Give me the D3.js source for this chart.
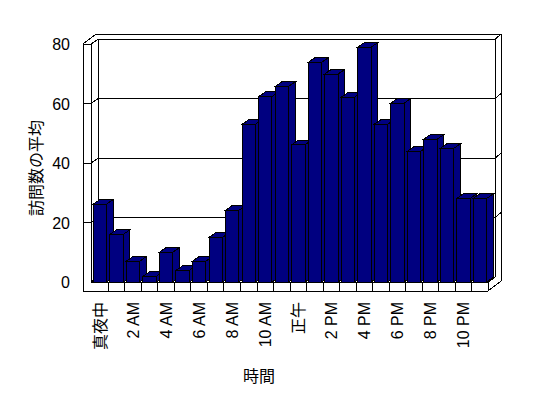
<!DOCTYPE html>
<html>
<head>
<meta charset="utf-8">
<script src="https://cdn.jsdelivr.net/npm/d3@7"></script>
<style>
  html, body { margin: 0; padding: 0; background: #fff; }
  svg { display: block; }
  text { font-family: "Liberation Sans", Arial, "Noto Sans CJK JP", sans-serif; fill: #000; }
</style>
</head>
<body>
<script>
// ---- data ----
const categories = ["真夜中","1 AM","2 AM","3 AM","4 AM","5 AM","6 AM","7 AM","8 AM","9 AM","10 AM","11 AM",
                    "正午","1 PM","2 PM","3 PM","4 PM","5 PM","6 PM","7 PM","8 PM","9 PM","10 PM","11 PM"];
const visits = [26.2, 16.0, 7.0, 1.9, 10.0, 3.9, 7.0, 15.0, 24.1, 53.0, 62.3, 65.7,
                46.1, 73.8, 69.9, 62.1, 78.9, 53.0, 60.1, 43.9, 48.0, 44.9, 28.1, 28.1];
const xTickLabels = ["真夜中","2 AM","4 AM","6 AM","8 AM","10 AM","正午","2 PM","4 PM","6 PM","8 PM","10 PM"];
const yTicks = [0, 20, 40, 60, 80];
const yTitle = "訪問数の平均";
const xTitle = "時間";

// ---- layout ----
const W = 548, H = 398;
const svg = d3.select("body").append("svg").attr("width", W).attr("height", H);

const frontL = 83, wallT = 8;           // side wall front face x..x+wallT
const floorR = 488, floorB = 291;
const d1 = {dx: 7.3, dy: -5};           // inner depth (to back wall face)
const d2 = {dx: 13, dy: -10};           // outer depth (incl. wall thickness)
const bd = {dx: 6.7, dy: -4.7};         // bar depth

const x = d3.scaleBand().domain(categories).range([91.8, 488.3]).paddingInner(0.19).paddingOuter(0.095);
const y = d3.scaleLinear().domain([0, 80]).range([282, 44]);
const y0 = y(0), yTop = y(80);
const step = x.step();
const cat0 = 91.8;

const g = svg.append("g").attr("shape-rendering", "crispEdges")
  .attr("stroke", "#000").attr("stroke-width", 1).attr("fill", "none");

function line(x1, y1, x2, y2) {
  g.append("line").attr("x1", x1).attr("y1", y1).attr("x2", x2).attr("y2", y2);
}

const inL = frontL + wallT; // 91
// side wall front face
line(frontL, yTop, frontL, floorB);
line(frontL, yTop, inL, yTop);
line(inL, yTop, inL, y0);
// top of walls
line(frontL, yTop, frontL + d2.dx, yTop + d2.dy);
line(inL, yTop, inL + d1.dx, yTop + d1.dy);
line(frontL + d2.dx, yTop + d2.dy, floorR + d2.dx, yTop + d2.dy);
line(inL + d1.dx, yTop + d1.dy, floorR + d1.dx, yTop + d1.dy);
line(floorR + d1.dx, yTop + d1.dy, floorR + d2.dx, yTop + d2.dy);
// back wall verticals
line(inL + d1.dx, yTop + d1.dy, inL + d1.dx, y0 + d1.dy);
line(floorR + d1.dx, yTop + d1.dy, floorR + d1.dx, y0 + d1.dy);
line(floorR + d2.dx, yTop + d2.dy, floorR + d2.dx, floorB + d2.dy);

// gridlines
yTicks.filter(v => v > 0 && v < 80).forEach(v => {
  const yy = y(v);
  line(frontL, yy, inL, yy);
  line(inL, yy, inL + d1.dx, yy + d1.dy);
  line(inL + d1.dx, yy + d1.dy, floorR + d1.dx, yy + d1.dy);
  line(floorR + d1.dx, yy + d1.dy, floorR + d2.dx, yy + d2.dy);
});

// floor
line(inL + d1.dx, y0 + d1.dy, floorR + d1.dx, y0 + d1.dy);
line(inL, y0, inL + d1.dx, y0 + d1.dy);
line(inL, y0, floorR, y0);
line(frontL, floorB, floorR, floorB);
line(floorR, y0, floorR, floorB);
line(floorR, y0, floorR + d1.dx, y0 + d1.dy);
line(floorR, floorB, floorR + d2.dx, floorB + d2.dy);
for (let k = 1; k < categories.length; k++) {
  const xx = cat0 + k * step;
  line(xx, y0, xx, floorB);
}

// bars
const bw = x.bandwidth();
const bars = svg.append("g").attr("shape-rendering", "crispEdges");
categories.forEach((c, i) => {
  const v = visits[i];
  const x0 = x(c), yt = y(v), yb = y0;
  const gb = bars.append("g").attr("fill", "#000080").attr("stroke", "#000").attr("stroke-width", 1);
  gb.append("polygon").attr("points", [
    [x0 + bw, yt], [x0 + bw + bd.dx, yt + bd.dy], [x0 + bw + bd.dx, yb + bd.dy], [x0 + bw, yb]
  ].map(p => p.join(",")).join(" "));
  gb.append("polygon").attr("points", [
    [x0, yt], [x0 + bd.dx, yt + bd.dy], [x0 + bw + bd.dx, yt + bd.dy], [x0 + bw, yt]
  ].map(p => p.join(",")).join(" "));
  gb.append("rect").attr("x", x0).attr("y", yt).attr("width", bw).attr("height", yb - yt);
});

// y axis labels
const yAxis = d3.axisLeft(y).tickValues(yTicks).tickSize(0).tickPadding(13);
const ya = svg.append("g").attr("transform", `translate(${frontL},0)`).call(yAxis);
ya.select(".domain").remove();
ya.selectAll("text").attr("font-size", 16).attr("font-family", null).attr("dy", "0.35em").attr("x", -13);

// x axis labels
const shown = new Set(xTickLabels);
const xAxis = d3.axisBottom(x).tickValues(categories.filter(c => shown.has(c))).tickSize(0);
const xa = svg.append("g").attr("transform", `translate(0,302)`).call(xAxis);
xa.select(".domain").remove();
xa.selectAll(".tick text")
  .attr("font-size", 16).attr("font-family", null)
  .attr("y", 0).attr("dy", "0.35em")
  .attr("transform", "rotate(-90)")
  .attr("text-anchor", "end")
  .attr("x", 0);

// titles
svg.append("text").attr("transform", "translate(36,168) rotate(-90)")
  .attr("text-anchor", "middle").attr("dy", "0.35em").attr("font-size", 16).text(yTitle);
svg.append("text").attr("x", 259).attr("y", 376)
  .attr("text-anchor", "middle").attr("dy", "0.35em").attr("font-size", 16).text(xTitle);
</script>
</body>
</html>
